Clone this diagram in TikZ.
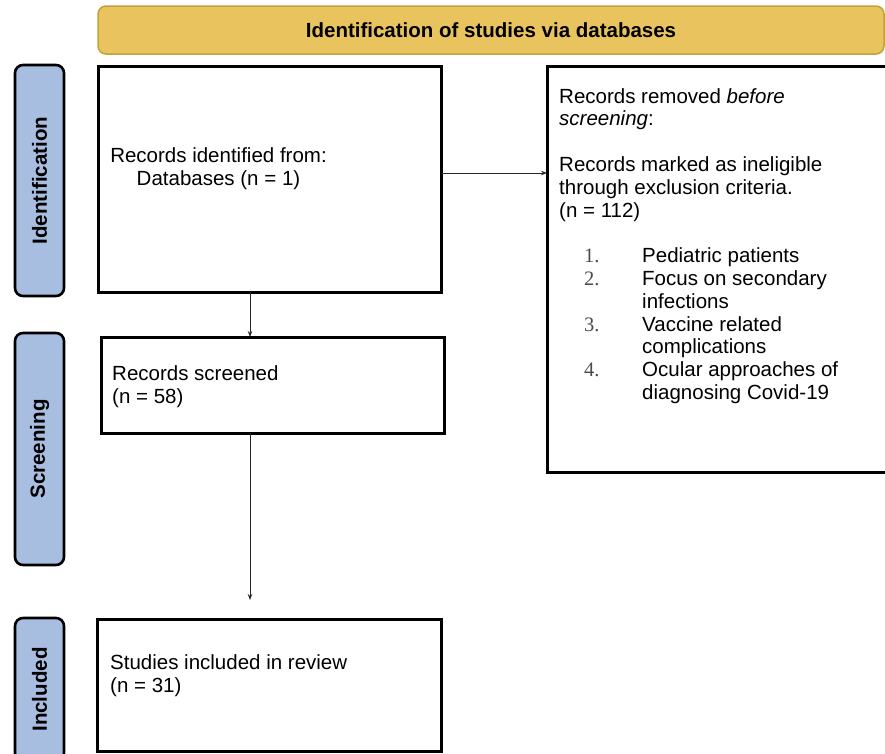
\documentclass[tikz,border=0pt]{standalone}
\usepackage{fontspec}
\setmainfont{Liberation Sans}
\newfontfamily\numfont{Liberation Serif}
\usetikzlibrary{arrows.meta}
\definecolor{gold}{RGB}{233,196,94}
\definecolor{golddark}{RGB}{196,160,62}
\definecolor{phaseblue}{RGB}{168,190,224}
\definecolor{numgray}{RGB}{75,75,75}
\newcommand{\numitem}[2]{\hspace*{25pt}\makebox[58pt][l]{\numfont\color{numgray}#1}#2}
\newcommand{\contline}[1]{\hspace*{83pt}#1}
\begin{document}
\begin{tikzpicture}[x=1pt,y=-1pt,
  box/.style={draw=black, line width=3pt, inner sep=0pt, outer sep=0pt, fill=white},
  phase/.style={draw=black, line width=2.6pt, fill=phaseblue, rounded corners=8pt, inner sep=0pt, outer sep=0pt, rotate=90, font=\fontsize{20.5}{23}\selectfont\bfseries},
  banner/.style={draw=golddark, line width=1.5pt, fill=gold, rounded corners=8pt, inner sep=0pt, font=\fontsize{20.5}{23}\selectfont\bfseries},
  txt/.style={inner sep=0pt, font=\fontsize{20.5}{22.8}\selectfont},
  arr/.style={draw=black!85, line width=0.9pt, -{Stealth[length=6pt,width=4.5pt]}}]
\useasboundingbox (0,0) rectangle (885,753);
\clip (0,0) rectangle (885,753);
\fill[white] (0,0) rectangle (885,753);

% banner
\node[banner, minimum width=786pt, minimum height=48pt] (ban) at (491,30) {Identification of studies via databases};

% phase labels
\node[phase, minimum width=231pt, minimum height=49pt] (p1) at (39.5,180.5) {Identification};
\node[phase, minimum width=232pt, minimum height=49pt] (p2) at (39.5,449) {Screening};
\node[phase, minimum width=143pt, minimum height=49pt] (p3) at (39.5,689.5) {Included};

% boxes
\node[box, minimum width=343pt, minimum height=226pt] (b1) at (269.5,179) {};
\node[box, minimum width=343pt, minimum height=96pt] (b2) at (272.5,385) {};
\node[box, minimum width=344pt, minimum height=132pt] (b3) at (269,685) {};
\node[box, minimum width=358pt, minimum height=406pt] (b4) at (726,269) {};

% texts (base anchor = baseline of the last line)
\node[txt, align=center, anchor=base] (t1) at (218.5,185) {Records identified from:\\Databases (n = 1)};
\node[txt, align=left, anchor=base west] (t3) at (112,403) {Records screened\\(n = 58)};
\node[txt, align=left, anchor=base west] (t4) at (110,692) {Studies included in review\\(n = 31)};
\node[txt, align=left, anchor=base west] (t2) at (559,399.4) {Records removed \textit{before}\\
\textit{screening}:\\
\mbox{}\\
Records marked as ineligible\\
through exclusion criteria.\\
(n = 112)\\
\mbox{}\\
\numitem{1.}{Pediatric patients}\\
\numitem{2.}{Focus on secondary}\\
\contline{infections}\\
\numitem{3.}{Vaccine related}\\
\contline{complications}\\
\numitem{4.}{Ocular approaches of}\\
\contline{diagnosing Covid-19}};

% connectors
\coordinate (e2) at (250,600);
\draw[arr] (b1.east |- 0,173) -- (b4.west |- 0,173);
\draw[arr] (b1.south -| 250,0) -- (b2.north -| 250,0);
\draw[arr] (b2.south -| 250,0) -- (e2);
\end{tikzpicture}
\end{document}
